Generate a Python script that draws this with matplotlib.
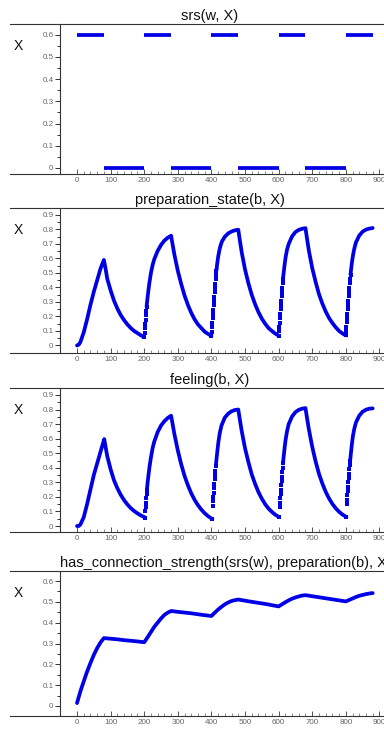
import numpy as np
import matplotlib
matplotlib.use("Agg")
import matplotlib.pyplot as plt
from matplotlib.ticker import FixedLocator

plt.rcParams["font.family"] = ["Liberation Sans", "DejaVu Sans"]

# ── data ─────────────────────────────────────────────────────────────────────

TITLES = ["srs(w, X)", "preparation_state(b, X)", "feeling(b, X)",
          "has_connection_strength(srs(w), preparation(b), X)"]
X_TICKS = [0, 100, 200, 300, 400, 500, 600, 700, 800, 900]

# srs(w, X): stimulus on/off intervals
SRS_START = [0, 80, 200, 280, 400, 480, 600, 680, 800]
SRS_END = [80, 200, 280, 400, 480, 600, 680, 800, 880]
SRS_LEVEL = [0.6, 0.0, 0.6, 0.0, 0.6, 0.0, 0.6, 0.0, 0.6]

PREP_T = [0, 5, 10, 20, 30, 40, 50, 60, 70, 80,
          85, 90, 100, 110, 120, 130, 140, 150, 160, 170, 180, 190, 200,
          201, 202, 203, 204, 205, 206, 207,
          209, 212, 215, 220, 225, 230, 240, 250, 260, 270, 280,
          285, 290, 300, 310, 320, 330, 340, 350, 360, 370, 380, 390, 400,
          401, 402, 403, 404, 405, 406, 407, 408, 409, 410, 411, 412, 413, 414, 415,
          417, 420, 424, 428, 432, 440, 450, 460, 470, 480,
          485, 490, 500, 510, 520, 530, 540, 550, 560, 570, 580, 590, 600,
          601, 602, 603, 604, 605, 606, 607, 608, 609, 610, 611, 612, 613,
          615, 618, 621, 625, 630, 640, 650, 660, 670, 680,
          685, 690, 700, 710, 720, 730, 740, 750, 760, 770, 780, 790, 800,
          801, 802, 803, 804, 805, 806, 807, 808, 809, 810, 811, 812, 813, 814,
          816, 819, 822, 826, 830, 840, 850, 860, 870, 880]
PREP_V = [0.0, 0.005, 0.023, 0.09, 0.18, 0.28, 0.37, 0.45, 0.53, 0.59,
          0.53, 0.46, 0.38, 0.31, 0.255, 0.21, 0.175, 0.145, 0.12, 0.10, 0.085, 0.07, 0.058,
          0.088, 0.118, 0.148, 0.178, 0.208, 0.238, 0.268,
          0.31, 0.37, 0.425, 0.50, 0.555, 0.595, 0.652, 0.693, 0.723, 0.743, 0.757,
          0.69, 0.625, 0.515, 0.425, 0.345, 0.28, 0.225, 0.18, 0.145, 0.12, 0.095, 0.08, 0.066,
          0.096, 0.126, 0.156, 0.186, 0.216, 0.246, 0.276, 0.306, 0.336, 0.366, 0.396, 0.426,
          0.456, 0.486, 0.516,
          0.56, 0.61, 0.66, 0.695, 0.72, 0.75, 0.773, 0.786, 0.794, 0.798,
          0.72, 0.645, 0.525, 0.43, 0.35, 0.285, 0.23, 0.185, 0.15, 0.12, 0.10, 0.082, 0.068,
          0.098, 0.128, 0.158, 0.188, 0.218, 0.248, 0.278, 0.308, 0.338, 0.368, 0.398, 0.428,
          0.458,
          0.50, 0.56, 0.61, 0.66, 0.70, 0.752, 0.782, 0.797, 0.805, 0.809,
          0.73, 0.655, 0.535, 0.44, 0.355, 0.29, 0.235, 0.19, 0.155, 0.125, 0.10, 0.083, 0.069,
          0.099, 0.129, 0.159, 0.189, 0.219, 0.249, 0.279, 0.309, 0.339, 0.369, 0.399, 0.429,
          0.459, 0.489,
          0.53, 0.585, 0.63, 0.675, 0.71, 0.758, 0.785, 0.799, 0.806, 0.81]

FEEL_T = [0, 5, 10, 20, 30, 40, 50, 60, 70, 81,
          85, 90, 100, 110, 120, 130, 140, 150, 160, 170, 180, 190, 200, 202,
          203, 204, 205, 206, 207, 208,
          210, 213, 216, 220, 225, 230, 240, 250, 260, 270, 280,
          283, 290, 300, 310, 320, 330, 340, 350, 360, 370, 380, 390, 400, 403,
          404, 405, 406, 407, 408, 409, 410, 411, 412, 413,
          415, 418, 421, 425, 430, 440, 450, 460, 470, 480,
          483, 490, 500, 510, 520, 530, 540, 550, 560, 570, 580, 590, 600, 602,
          603, 604, 605, 606, 607, 608, 609, 610, 611, 612, 613,
          615, 618, 621, 625, 630, 640, 650, 660, 670, 680,
          683, 690, 700, 710, 720, 730, 740, 750, 760, 770, 780, 790, 800, 802,
          803, 804, 805, 806, 807, 808, 809, 810, 811, 812, 813,
          815, 818, 821, 825, 830, 840, 850, 860, 870, 880]
FEEL_V = [0.0, 0.0, 0.01, 0.06, 0.15, 0.25, 0.35, 0.43, 0.51, 0.597,
          0.545, 0.48, 0.39, 0.315, 0.26, 0.215, 0.178, 0.148, 0.123, 0.103, 0.087, 0.073,
          0.062, 0.058,
          0.10, 0.13, 0.16, 0.19, 0.22, 0.25,
          0.295, 0.355, 0.41, 0.47, 0.535, 0.58, 0.645, 0.69, 0.72, 0.742, 0.758,
          0.72, 0.63, 0.52, 0.425, 0.345, 0.28, 0.225, 0.18, 0.143, 0.113, 0.088, 0.068,
          0.052, 0.048,
          0.14, 0.17, 0.20, 0.23, 0.26, 0.29, 0.32, 0.35, 0.38, 0.41,
          0.455, 0.52, 0.58, 0.64, 0.69, 0.745, 0.772, 0.788, 0.797, 0.80,
          0.755, 0.655, 0.535, 0.44, 0.355, 0.29, 0.233, 0.188, 0.15, 0.12, 0.097, 0.078,
          0.064, 0.062,
          0.13, 0.16, 0.19, 0.22, 0.25, 0.28, 0.31, 0.34, 0.37, 0.40, 0.43,
          0.475, 0.54, 0.595, 0.65, 0.70, 0.752, 0.782, 0.798, 0.806, 0.81,
          0.765, 0.665, 0.545, 0.445, 0.36, 0.293, 0.236, 0.19, 0.152, 0.122, 0.098, 0.079,
          0.065, 0.062,
          0.15, 0.18, 0.21, 0.24, 0.27, 0.30, 0.33, 0.36, 0.39, 0.42, 0.45,
          0.495, 0.56, 0.615, 0.665, 0.71, 0.758, 0.785, 0.799, 0.806, 0.808]

CONN_T = [0, 10, 20, 30, 40, 50, 60, 70, 80, 100, 120, 140, 160, 180, 200,
          210, 220, 230, 240, 250, 260, 270, 280, 300, 340, 370, 400,
          410, 420, 430, 440, 450, 460, 470, 480, 520, 560, 600,
          610, 620, 630, 640, 650, 660, 670, 680, 720, 760, 800,
          810, 820, 830, 840, 850, 860, 870, 880]
CONN_V = [0.014, 0.07, 0.118, 0.165, 0.206, 0.245, 0.278, 0.305, 0.326, 0.323, 0.32,
          0.316, 0.313, 0.31, 0.306,
          0.33, 0.355, 0.38, 0.40, 0.42, 0.437, 0.448, 0.456, 0.452, 0.445, 0.438, 0.432,
          0.448, 0.463, 0.476, 0.488, 0.497, 0.504, 0.508, 0.511, 0.50, 0.49, 0.478,
          0.488, 0.498, 0.507, 0.515, 0.521, 0.526, 0.53, 0.532, 0.522, 0.512, 0.502,
          0.509, 0.516, 0.523, 0.529, 0.533, 0.537, 0.54, 0.542]

# ── layout (pixels of the 384x732 screenshot) ────────────────────────────────

W, H = 384, 732
BLUE = "#0000e6"
AXIS_GRAY = "#333333"
LABEL_GRAY = "#666666"
STEEP = 0.026          # slope above which the trace shows as separate dots
PX_PER_T = 0.336       # x scale: t=0 at px 77
T0_PX = 77
LW = 2.7


def px_box(top, bottom):
    return [10 / W, 1 - bottom / H, (W - 10) / W, (bottom - top) / H]


def make_panel(fig, top, bottom, ylo, yhi, ymax_tick, title, title_left=None):
    ax = fig.add_axes(px_box(top, bottom))
    ax.set_xlim((10 - T0_PX) / PX_PER_T, (W - T0_PX) / PX_PER_T)
    ax.set_ylim(ylo, yhi)
    ax.spines["right"].set_visible(False)
    for s in ["top", "bottom", "left"]:
        ax.spines[s].set_color(AXIS_GRAY)
        ax.spines[s].set_linewidth(0.8)
    ax.spines["left"].set_position(("axes", (60 - 10) / (W - 10)))

    yt = np.round(np.arange(0, ymax_tick + 0.001, 0.1), 2)
    ax.yaxis.set_major_locator(FixedLocator(yt))
    ax.yaxis.set_minor_locator(FixedLocator(yt[:-1] + 0.05))
    ax.set_yticklabels(["0"] + [f"{v:.1f}" for v in yt[1:]])
    ax.xaxis.set_major_locator(FixedLocator(X_TICKS))
    ax.xaxis.set_minor_locator(FixedLocator([t for t in range(20, 900, 20) if t % 100]))
    ax.tick_params(axis="y", which="major", direction="out", length=3.5, width=0.7,
                   color=AXIS_GRAY, labelsize=5.8, labelcolor=LABEL_GRAY, pad=1.2)
    ax.tick_params(axis="y", which="minor", direction="out", length=2, width=0.7,
                   color=AXIS_GRAY)
    ax.tick_params(axis="x", which="major", direction="in", length=3.5, width=0.7,
                   color="#555555", labelsize=5.8, labelcolor=LABEL_GRAY, pad=2.5)
    ax.tick_params(axis="x", which="minor", direction="in", length=2, width=0.6,
                   color="#777777")

    if title_left is None:
        fig.text(210 / W, 1 - (top - 4) / H, title, ha="center", va="baseline",
                 fontsize=10.5, color="#111111")
    else:
        fig.text(title_left / W, 1 - (top - 4) / H, title, ha="left", va="baseline",
                 fontsize=10.5, color="#111111")
    fig.text(18 / W, 1 - (top + 26) / H, "X", ha="center", va="baseline",
             fontsize=10, color="#111111")
    return ax


def draw_trace(ax, t, v):
    t = np.asarray(t, float)
    v = np.asarray(v, float)
    steep = np.abs(np.diff(v) / np.diff(t)) > STEEP
    i, n = 0, len(steep)
    while i < n:
        if steep[i]:
            i += 1
            continue
        j = i
        while j < n and not steep[j]:
            j += 1
        ax.plot(t[i:j + 1], v[i:j + 1], color=BLUE, lw=LW,
                solid_capstyle="round", solid_joinstyle="round")
        i = j
    dots = np.zeros(len(t), bool)
    dots[:-1] |= steep
    dots[1:] |= steep
    ax.plot(t[dots], v[dots], "s", color=BLUE, ms=2.2, mew=0)


fig = plt.figure(figsize=(W / 100, H / 100), dpi=100)

ax1 = make_panel(fig, 24, 174, -0.027, 0.648, 0.6, TITLES[0])
ax1.hlines(SRS_LEVEL, SRS_START, SRS_END, colors=BLUE, lw=LW)

ax2 = make_panel(fig, 208, 353, -0.052, 0.948, 0.9, TITLES[1])
draw_trace(ax2, PREP_T, PREP_V)

ax3 = make_panel(fig, 388, 532, -0.041, 0.948, 0.9, TITLES[2])
draw_trace(ax3, FEEL_T, FEEL_V)

ax4 = make_panel(fig, 571, 716, -0.048, 0.648, 0.6, TITLES[3], title_left=60)
ax4.plot(CONN_T, CONN_V, color=BLUE, lw=LW, solid_capstyle="round",
         solid_joinstyle="round")

fig.savefig("out.png", dpi=100)
